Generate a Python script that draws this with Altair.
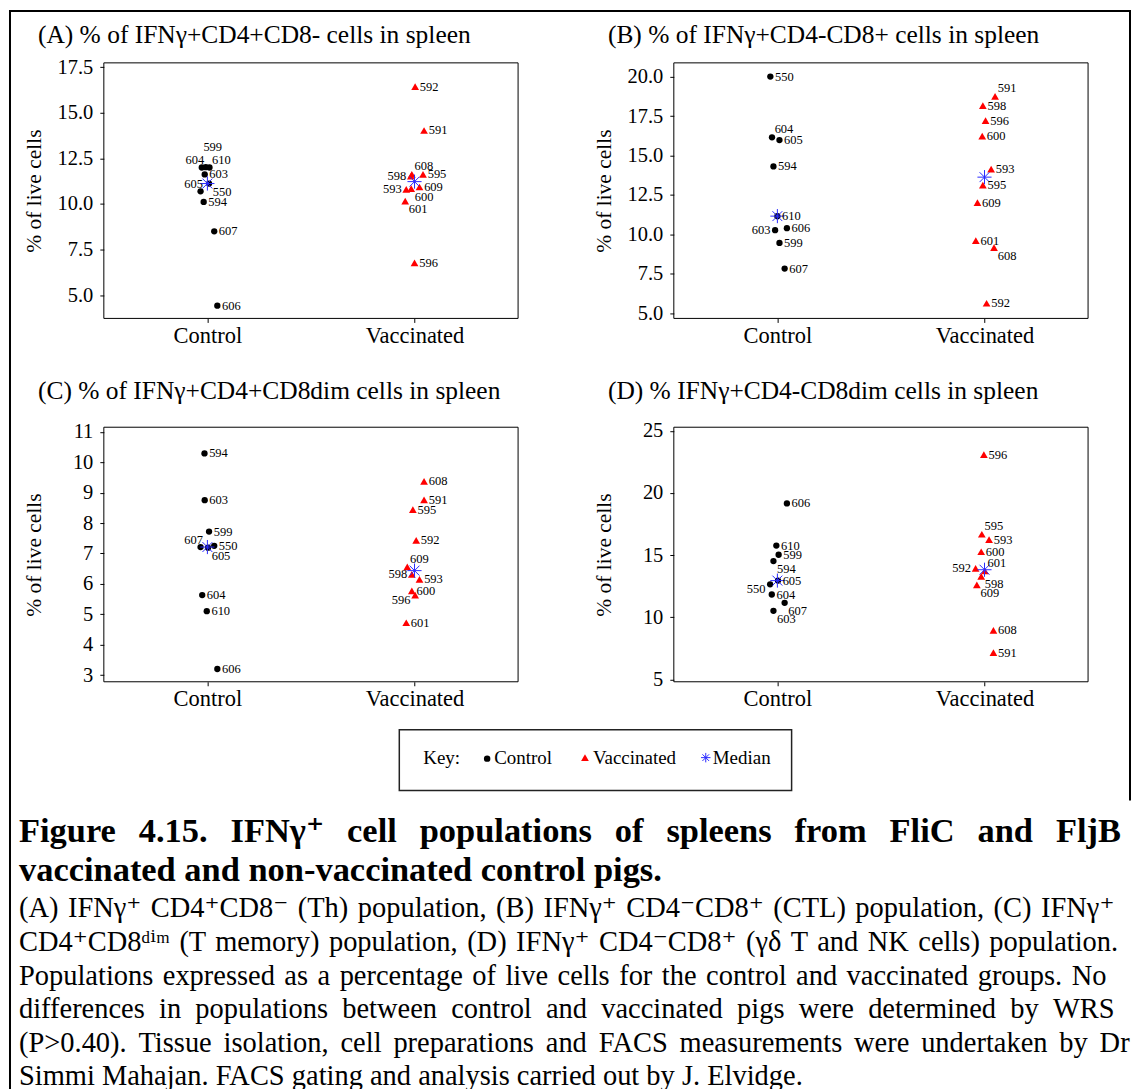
import altair as alt
import pandas as pd

FONT = "'Liberation Serif', 'DejaVu Serif', serif"
GROUPS = ["Control", "Vaccinated"]
Y_TITLE = "% of live cells"

# ---------------- Panel A ----------------
A_TITLE = "(A) % of IFNγ+CD4+CD8-  cells in spleen"
A_CTRL_ID = ["599", "604", "610", "603", "550", "605", "594", "607", "606"]
A_CTRL_VAL = [12.02, 12.0, 12.0, 11.62, 11.12, 10.69, 10.11, 8.50, 4.42]
A_CTRL_JIT = [-0.008, -0.027, 0.010, -0.013, 0.008, -0.033, -0.018, 0.033, 0.048]
A_CTRL_LAB = ["t", "tl", "tr", "r", "br", "tl", "r", "r", "r"]
A_VAC_ID = ["592", "591", "608", "598", "595", "593", "600", "609", "601", "596"]
A_VAC_VAL = [16.44, 14.03, 11.62, 11.52, 11.62, 10.80, 10.84, 10.93, 10.15, 6.77]
A_VAC_JIT = [0.003, 0.046, -0.013, -0.018, 0.041, -0.040, -0.016, 0.024, -0.045, 0.000]
A_VAC_LAB = ["r", "r", "tr", "l", "r", "l", "br", "r", "br", "r"]
A_YDOMAIN = [3.72, 17.74]
A_YTICKS = [5.0, 7.5, 10.0, 12.5, 15.0, 17.5]

# ---------------- Panel B ----------------
B_TITLE = "(B) % of IFNγ+CD4-CD8+  cells in spleen"
B_CTRL_ID = ["550", "604", "605", "594", "610", "606", "603", "599", "607"]
B_CTRL_VAL = [20.0, 16.15, 15.98, 14.31, 11.16, 10.40, 10.27, 9.46, 7.84]
B_CTRL_JIT = [-0.034, -0.026, 0.010, -0.019, 0.0, 0.046, -0.011, 0.010, 0.035]
B_CTRL_LAB = ["r", "tr", "r", "r", "r", "r", "l", "r", "r"]
B_VAC_ID = ["591", "598", "596", "600", "593", "595", "609", "601", "608", "592"]
B_VAC_VAL = [18.75, 18.16, 17.21, 16.23, 14.14, 13.12, 12.02, 9.61, 9.17, 5.64]
B_VAC_JIT = [0.051, -0.008, 0.005, -0.011, 0.032, -0.008, -0.034, -0.042, 0.046, 0.010]
B_VAC_LAB = ["tr", "r", "r", "r", "r", "r", "r", "r", "br", "r"]
B_YDOMAIN = [4.68, 20.87]
B_YTICKS = [5.0, 7.5, 10.0, 12.5, 15.0, 17.5, 20.0]

# ---------------- Panel C ----------------
C_TITLE = "(C) % of IFNγ+CD4+CD8dim  cells in spleen"
C_CTRL_ID = ["594", "603", "599", "607", "605", "550", "604", "610", "606"]
C_CTRL_VAL = [10.29, 8.75, 7.72, 7.21, 7.19, 7.25, 5.63, 5.10, 3.20]
C_CTRL_JIT = [-0.014, -0.013, 0.008, -0.033, 0.003, 0.033, -0.025, -0.003, 0.048]
C_CTRL_LAB = ["r", "r", "r", "tl", "br", "r", "r", "r", "r"]
C_VAC_ID = ["608", "591", "595", "592", "609", "598", "593", "600", "596", "601"]
C_VAC_VAL = [9.37, 8.76, 8.44, 7.43, 6.56, 6.31, 6.15, 5.77, 5.63, 4.72]
C_VAC_JIT = [0.046, 0.046, -0.008, 0.008, -0.035, -0.013, 0.024, -0.013, 0.003, -0.040]
C_VAC_LAB = ["r", "r", "r", "r", "tr", "l", "r", "r", "bl", "r"]
C_YDOMAIN = [2.78, 11.15]
C_YTICKS = [3, 4, 5, 6, 7, 8, 9, 10, 11]

# ---------------- Panel D ----------------
D_TITLE = "(D) % IFNγ+CD4-CD8dim  cells in spleen"
D_CTRL_ID = ["606", "610", "599", "594", "605", "550", "604", "607", "603"]
D_CTRL_VAL = [19.16, 15.77, 15.03, 14.52, 12.95, 12.65, 11.83, 11.16, 10.52]
D_CTRL_JIT = [0.046, -0.005, 0.006, -0.019, 0.003, -0.035, -0.027, 0.035, -0.019]
D_CTRL_LAB = ["r", "r", "r", "br", "r", "bl", "r", "br", "br"]
D_VAC_ID = ["596", "595", "593", "600", "592", "601", "598", "609", "608", "591"]
D_VAC_VAL = [23.08, 16.68, 16.25, 15.27, 13.93, 13.72, 13.29, 12.60, 8.95, 7.16]
D_VAC_JIT = [-0.003, -0.013, 0.022, -0.016, -0.043, 0.002, -0.016, -0.037, 0.043, 0.043]
D_VAC_LAB = ["r", "tr", "r", "r", "l", "tr", "br", "br", "r", "r"]
D_YDOMAIN = [4.81, 25.29]
D_YTICKS = [5, 10, 15, 20, 25]

# ---------------- Key & caption ----------------
KEY_TITLE = "Key:"
KEY_LABELS = ["Control", "Vaccinated", "Median"]
CAPTION_BOLD = [
    "Figure 4.15. IFNγ⁺ cell populations of spleens from FliC and FljB",
    "vaccinated and non-vaccinated control pigs.",
]
CAPTION_BODY = [
    "(A) IFNγ⁺ CD4⁺CD8⁻ (Th) population, (B) IFNγ⁺ CD4⁻CD8⁺ (CTL) population, (C) IFNγ⁺",
    "CD4⁺CD8ᵈⁱᵐ (T memory) population, (D) IFNγ⁺ CD4⁻CD8⁺ (γδ T and NK cells) population.",
    "Populations expressed as a percentage of live cells for the control and vaccinated groups.  No",
    "differences in populations between control and vaccinated pigs were determined by WRS",
    "(P>0.40). Tissue isolation, cell preparations and FACS measurements were undertaken by Dr",
    "Simmi Mahajan. FACS gating and analysis carried out by J. Elvidge.",
]

# ---------------- styling / layout (page pixel coordinates) ----------------
CTRL_COLOR = "black"
VAC_COLOR = "#ff0000"
MED_COLOR = "#2a2aff"
STAR = "M-1,0L1,0M0,-1L0,1M-0.7,-0.7L0.7,0.7M-0.7,0.7L0.7,-0.7"
LABEL_OFFSETS = {"r": (14, 0), "l": (-14, 0), "tr": (12, -8), "tl": (-7, -7),
                 "br": (13, 8), "bl": (-14, 5), "t": (7, -20)}
W, H = 1123, 1073
BOX_A = (103, 518, 61, 317)
BOX_B = (674, 1089, 61, 317)
BOX_C = (103, 518, 426, 681)
BOX_D = (674, 1089, 426, 681)
TITLE_GAP = {"A": 28, "B": 28, "C": 36, "D": 36}
# extra word spacing used to imitate the justified caption lines
JUSTIFY_BOLD = ["\u2002\u2006", " "]
JUSTIFY_BODY = [" \u200a", " \u200a", " \u200a", "\u2002", " \u2006", " "]

one = pd.DataFrame({"k": [0]})


def rx(px):
    return px - 8


def ry(py):
    return py - 8


def make_panel(title, cid, cval, cjit, clab, vid, vval, vjit, vlab,
               box, title_gap, ydom, yticks, yfmt):
    x0, x1, y0, y1 = box
    rows = []
    for i, v, j, l in zip(cid, cval, cjit, clab):
        rows.append({"id": i, "g": 0, "value": v, "jit": j, "lab": l})
    for i, v, j, l in zip(vid, vval, vjit, vlab):
        rows.append({"id": i, "g": 1, "value": v, "jit": j, "lab": l})
    df = pd.DataFrame(rows)

    label_expr = f"datum.value == 0 ? '{GROUPS[0]}' : '{GROUPS[1]}'"
    xenc = alt.X("xpos:Q",
                 scale=alt.Scale(domain=[-0.5, 1.5], range=[rx(x0), rx(x1)],
                                 nice=False, zero=False),
                 axis=alt.Axis(orient="bottom", offset=ry(y1) - H,
                               values=[0, 1], labelExpr=label_expr, title=None,
                               grid=False, tickSize=4, labelPadding=2,
                               labelFontSize=22.5, labelFont=FONT, domain=False))
    yenc = alt.Y("value:Q",
                 scale=alt.Scale(domain=ydom, range=[ry(y1), ry(y0)],
                                 nice=False, zero=False),
                 axis=alt.Axis(orient="left", offset=-rx(x0),
                               values=yticks, format=yfmt, title=Y_TITLE, grid=False,
                               tickSize=4, labelPadding=7, labelFontSize=20.5,
                               titleFontSize=21.5, titleFontWeight="normal",
                               titlePadding=11, minExtent=47, maxExtent=47,
                               labelFont=FONT, titleFont=FONT, domain=False))

    frame = alt.Chart(one).mark_rect(fillOpacity=0, stroke="black", strokeWidth=1).encode(
        x=alt.value(rx(x0)), x2=alt.value(rx(x1)),
        y=alt.value(ry(y0)), y2=alt.value(ry(y1)))
    ttl = alt.Chart(pd.DataFrame({"t": [title]})).mark_text(
        align="left", baseline="middle", fontSize=25.5, font=FONT, color="black"
    ).encode(text="t:N", x=alt.value(rx(x0 - 66)), y=alt.value(ry(y0 - title_gap)))

    base = alt.Chart(df).transform_calculate(xpos="datum.g + datum.jit")
    ctrl = base.transform_filter("datum.g == 0").mark_point(
        shape="circle", filled=True, size=40, color=CTRL_COLOR, opacity=1
    ).encode(x=xenc, y=yenc)
    vacc = base.transform_filter("datum.g == 1").mark_point(
        shape="triangle-up", filled=True, size=60, color=VAC_COLOR, opacity=1
    ).encode(x=xenc, y=yenc)
    med = alt.Chart(df).transform_aggregate(
        value="median(value)", groupby=["g"]
    ).transform_calculate(xpos="datum.g").mark_point(
        shape=STAR, filled=False, size=200, stroke=MED_COLOR, strokeWidth=1, opacity=1
    ).encode(x=xenc, y=yenc)

    layers = [frame, ctrl, vacc, med]
    used = set(clab) | set(vlab)
    for code, (dx, dy) in LABEL_OFFSETS.items():
        if code not in used:
            continue
        layers.append(
            base.transform_filter(f"datum.lab == '{code}'").mark_text(
                dx=dx, dy=dy, align="center", baseline="middle",
                fontSize=12.5, font=FONT, color="black"
            ).encode(x=xenc, y=yenc, text="id:N")
        )
    layers.append(ttl)
    return alt.layer(*layers)


pA = make_panel(A_TITLE, A_CTRL_ID, A_CTRL_VAL, A_CTRL_JIT, A_CTRL_LAB,
                A_VAC_ID, A_VAC_VAL, A_VAC_JIT, A_VAC_LAB,
                BOX_A, TITLE_GAP["A"], A_YDOMAIN, A_YTICKS, ".1f")
pB = make_panel(B_TITLE, B_CTRL_ID, B_CTRL_VAL, B_CTRL_JIT, B_CTRL_LAB,
                B_VAC_ID, B_VAC_VAL, B_VAC_JIT, B_VAC_LAB,
                BOX_B, TITLE_GAP["B"], B_YDOMAIN, B_YTICKS, ".1f")
pC = make_panel(C_TITLE, C_CTRL_ID, C_CTRL_VAL, C_CTRL_JIT, C_CTRL_LAB,
                C_VAC_ID, C_VAC_VAL, C_VAC_JIT, C_VAC_LAB,
                BOX_C, TITLE_GAP["C"], C_YDOMAIN, C_YTICKS, "d")
pD = make_panel(D_TITLE, D_CTRL_ID, D_CTRL_VAL, D_CTRL_JIT, D_CTRL_LAB,
                D_VAC_ID, D_VAC_VAL, D_VAC_JIT, D_VAC_LAB,
                BOX_D, TITLE_GAP["D"], D_YDOMAIN, D_YTICKS, "d")


# ---------------- key box + caption ----------------
def txt(s, px, py, size, weight="normal", align="left"):
    return alt.Chart(pd.DataFrame({"t": [s]})).mark_text(
        align=align, baseline="middle", fontSize=size, font=FONT,
        fontWeight=weight, color="black"
    ).encode(text="t:N", x=alt.value(rx(px)), y=alt.value(ry(py)))


deco = []
deco.append(
    alt.Chart(one).mark_rect(fill="white", stroke="#222222", strokeWidth=1.5).encode(
        x=alt.value(rx(399)), x2=alt.value(rx(792)),
        y=alt.value(ry(729)), y2=alt.value(ry(790))))
KEY_Y = 757
deco.append(txt(KEY_TITLE, 423, KEY_Y, 19))
deco.append(
    alt.Chart(one).mark_point(shape="circle", filled=True, size=42, color=CTRL_COLOR, opacity=1)
    .encode(x=alt.value(rx(487)), y=alt.value(ry(KEY_Y + 1))))
deco.append(txt(KEY_LABELS[0], 494, KEY_Y, 19))
deco.append(
    alt.Chart(one).mark_point(shape="triangle-up", filled=True, size=60, color=VAC_COLOR, opacity=1)
    .encode(x=alt.value(rx(585)), y=alt.value(ry(KEY_Y))))
deco.append(txt(KEY_LABELS[1], 593, KEY_Y, 19))
deco.append(
    alt.Chart(one).mark_point(shape=STAR, filled=False, size=90, stroke=MED_COLOR, strokeWidth=1, opacity=1)
    .encode(x=alt.value(rx(706)), y=alt.value(ry(KEY_Y))))
deco.append(txt(KEY_LABELS[2], 713, KEY_Y, 19))

BOLD_Y = [832, 871]
BODY_Y = [908, 941.5, 975.5, 1008.5, 1042.5, 1076]
for line, py, sep in zip(CAPTION_BOLD, BOLD_Y, JUSTIFY_BOLD):
    deco.append(txt(line.replace(" ", sep), 18, py, 34.5, weight="bold"))
for line, py, sep in zip(CAPTION_BODY, BODY_Y, JUSTIFY_BODY):
    s = line.replace("  ", " ").replace(" ", sep)
    deco.append(txt(s, 18, py, 28.5))

# page frame lines
deco.append(alt.Chart(one).mark_rule(color="black", strokeWidth=2).encode(
    x=alt.value(0), x2=alt.value(W), y=alt.value(1)))
deco.append(alt.Chart(one).mark_rule(color="black", strokeWidth=2).encode(
    x=alt.value(1), y=alt.value(0), y2=alt.value(H + 12)))
deco.append(alt.Chart(one).mark_rule(color="black", strokeWidth=2).encode(
    x=alt.value(W), y=alt.value(0), y2=alt.value(ry(800))))

chart = alt.layer(pA, pB, pC, pD, *deco).resolve_scale(
    x="independent", y="independent"
).resolve_axis(
    x="independent", y="independent"
).properties(
    width=W, height=H, padding=0, background="white"
).configure_view(stroke="transparent").configure_axis(
    domainColor="black", tickColor="black", labelColor="black", titleColor="black",
    labelFont=FONT, titleFont=FONT, grid=False
)

chart.save("out.html", embed_options={"renderer": "svg", "actions": False})
